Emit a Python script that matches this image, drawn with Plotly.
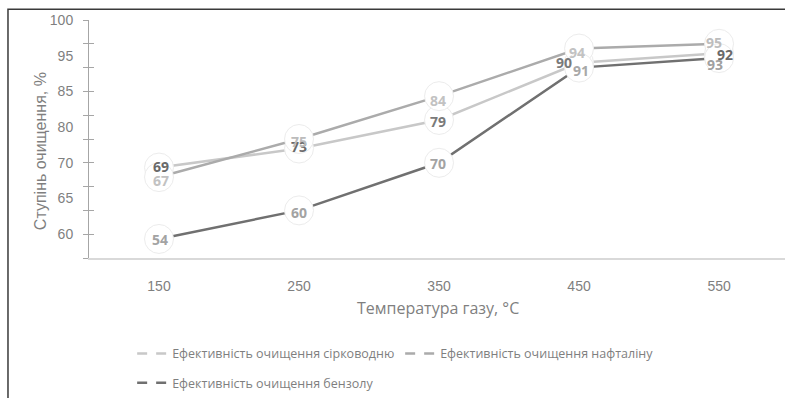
import plotly.graph_objects as go

# ---- data ----
temperatures = ["150", "250", "350", "450", "550"]
h2s_eff = [69, 73, 79, 91, 93]          # Ефективність очищення сірководню
naphthalene_eff = [67, 75, 84, 94, 95]  # Ефективність очищення нафталіну
benzene_eff = [54, 60, 70, 90, 92]      # Ефективність очищення бензолу
series_names = [
    "Ефективність очищення сірководню",
    "Ефективність очищення нафталіну",
    "Ефективність очищення бензолу",
]
ytick_positions = [100, 92.5, 85, 77.5, 70, 62.5, 55]
ytick_labels = ["100", "95", "85", "80", "70", "65", "60"]
ytick_marks = [50, 55, 60, 65, 70, 75, 80, 85, 90, 95, 100]

# ---- styles ----
line_colors = ["#c8c8c8", "#ababab", "#707070"]
label_colors = [
    ["#6a6a6a", "#6a6a6a", "#7a7a7a", "#a8a8a8", "#a0a0a0"],
    ["#c2c2c2", "#bcbcbc", "#c2c2c2", "#c2c2c2", "#bdbdbd"],
    ["#a3a3a3", "#a3a3a3", "#a3a3a3", "#7a7a7a", "#6a6a6a"],
]
label_shift_x = [
    [2, 0, -1, 2, -4],
    [2, 0, -1, -2, -5],
    [1, 0, -1, -15, 6],
]
label_shift_y = [
    [1, 2, -2, -8, -11],
    [-3, -2, -4, -4, 1],
    [-1, -2, -1, 5, 4],
]
narrow = "Liberation Sans Narrow, Open Sans, sans-serif"
base = "Liberation Sans, Open Sans, sans-serif"

fig = go.Figure()
all_series = [h2s_eff, naphthalene_eff, benzene_eff]
for i, vals in enumerate(all_series):
    fig.add_trace(go.Scatter(
        x=temperatures, y=vals, name=series_names[i],
        mode="lines+markers",
        line=dict(color=line_colors[i], width=2.5),
        marker=dict(size=29, color="white", line=dict(color="#ececec", width=1)),
        showlegend=False,
        hoverinfo="skip",
    ))
    for j, v in enumerate(vals):
        fig.add_annotation(
            x=j, y=v, xref="x", yref="y", text=f"<b>{v}</b>",
            showarrow=False, xshift=label_shift_x[i][j], yshift=label_shift_y[i][j],
            xanchor="center", yanchor="middle",
            font=dict(family=narrow, size=14, color=label_colors[i][j]),
        )

# legend entries ("— —" symbol)
for i in range(3):
    fig.add_trace(go.Scatter(
        x=[temperatures[0]], y=[None], name=series_names[i], mode="lines",
        line=dict(color=line_colors[i], width=2.5, dash="10px,9px"),
        legend="legend" if i < 2 else "legend2", hoverinfo="skip",
    ))

# invisible traces so overlay axes render
fig.add_trace(go.Scatter(x=[temperatures[0]], y=[None], yaxis="y2", showlegend=False, hoverinfo="skip"))
fig.add_trace(go.Scatter(x=[temperatures[0]], y=[None], yaxis="y3", showlegend=False, hoverinfo="skip"))

fig.add_annotation(
    x=-0.0704, y=0.449, xref="paper", yref="paper", text="Ступінь очищення, %",
    xanchor="center", yanchor="middle",
    textangle=-90, showarrow=False, font=dict(family=base, size=16, color="#7f7f7f"),
)
fig.add_annotation(
    x=0.5014, y=-0.21, xref="paper", yref="paper", text="Температура газу, °C",
    xanchor="center", yanchor="middle",
    showarrow=False, font=dict(family=narrow, size=16, color="#7f7f7f"),
)

# outer frame (left and top visible, rest cropped)
fig.add_shape(type="rect", xref="paper", yref="paper",
              x0=-0.1164, x1=1.5, y0=-2, y1=1.0453,
              line=dict(color="#3a3a3a", width=1.5), layer="above")

fig.update_layout(
    width=785, height=398,
    margin=dict(l=89, r=0, t=20, b=135),
    paper_bgcolor="white", plot_bgcolor="white",
    xaxis=dict(
        type="category", range=[-0.5, 4.471], showgrid=False, zeroline=False,
        showline=True, linecolor="#d9d9d9", linewidth=2, ticks="",
        tickfont=dict(family=base, size=14, color="#7f7f7f"), ticklabelstandoff=14,
    ),
    yaxis=dict(
        range=[50, 100], tickmode="array", tickvals=ytick_positions, ticktext=ytick_labels,
        showgrid=False, zeroline=False, showline=True, linecolor="#a6a6a6", linewidth=1,
        ticks="", tickfont=dict(family=base, size=14, color="#7f7f7f"), ticklabelstandoff=12,
    ),
    yaxis2=dict(
        range=[50, 100], overlaying="y", side="left", anchor="x", tickmode="array",
        tickvals=ytick_marks, ticks="outside", ticklen=5, tickcolor="#a6a6a6",
        showticklabels=False, showgrid=False, zeroline=False, showline=False,
    ),
    yaxis3=dict(
        range=[50, 100], overlaying="y", side="left", anchor="x", tickmode="array",
        tickvals=ytick_marks, ticks="inside", ticklen=5, tickcolor="#a6a6a6",
        showticklabels=False, showgrid=False, zeroline=False, showline=False,
    ),
    legend=dict(
        orientation="h", x=0.062, xanchor="left", y=-0.403, yanchor="middle",
        entrywidth=223, entrywidthmode="pixels",
        font=dict(family=narrow, size=12.5, color="#7f7f7f"), bgcolor="rgba(0,0,0,0)",
    ),
    legend2=dict(
        orientation="h", x=0.062, xanchor="left", y=-0.527, yanchor="middle",
        font=dict(family=narrow, size=12.5, color="#7f7f7f"), bgcolor="rgba(0,0,0,0)",
    ),
    showlegend=True,
)

fig.write_html("out.html")
